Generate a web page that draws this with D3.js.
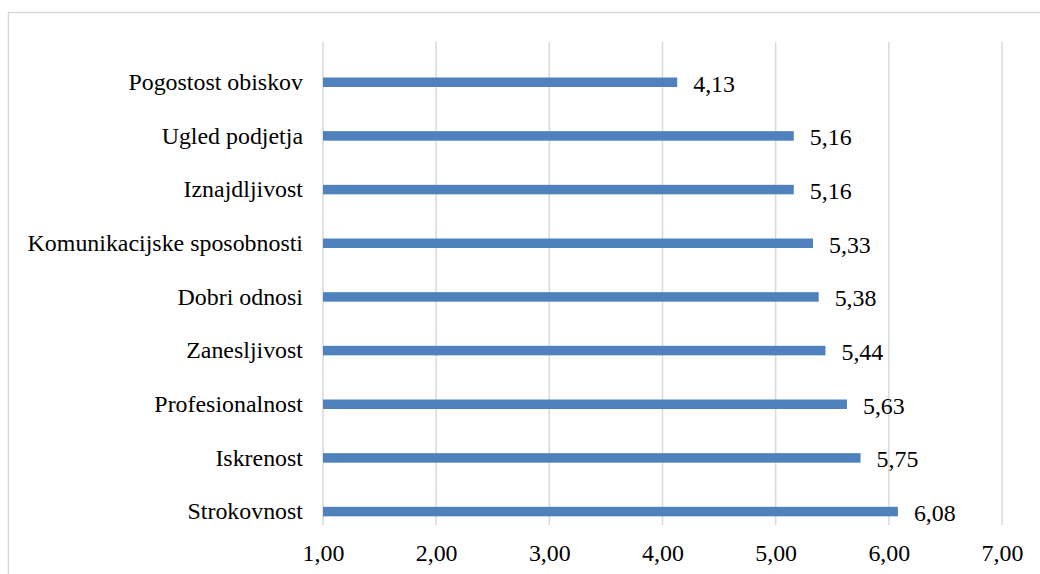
<!DOCTYPE html>
<html>
<head>
<meta charset="utf-8">
<script src="https://cdn.jsdelivr.net/npm/d3@7"></script>
<style>
  html, body { margin: 0; padding: 0; background: #fff; }
  svg { display: block; }
</style>
</head>
<body>
<svg id="chart" width="1040" height="574"></svg>
<script>
// Attribute ratings (mean scores), top to bottom
const categories = [
  "Pogostost obiskov",
  "Ugled podjetja",
  "Iznajdljivost",
  "Komunikacijske sposobnosti",
  "Dobri odnosi",
  "Zanesljivost",
  "Profesionalnost",
  "Iskrenost",
  "Strokovnost"
];
const values = [4.13, 5.16, 5.16, 5.33, 5.38, 5.44, 5.63, 5.75, 6.08];
const tickValues = [1, 2, 3, 4, 5, 6, 7];

const FONT = "Liberation Serif";
const FSIZE = 23.9;
const fmt = v => v.toFixed(2).replace(".", ",");

const svg = d3.select("#chart");
const W = 1040, H = 574;

// outer chart frame
svg.append("rect")
  .attr("x", 8.5).attr("y", 12.5)
  .attr("width", W + 20).attr("height", H + 20)
  .attr("fill", "none").attr("stroke", "#d9d9d9").attr("stroke-width", 1.5);

const plot = { left: 323, right: 1002, top: 42, bottom: 525 };

const x = d3.scaleLinear().domain([1, 7]).range([plot.left, plot.right]);
const y = d3.scaleBand().domain(categories).range([plot.top, plot.bottom]);
const barH = 9.5;
// bars sit in the lower part of each category slot
const barCenter = c => y(c) + y.bandwidth() * 0.75;

// vertical gridlines
svg.append("g").selectAll("line")
  .data(tickValues).join("line")
  .attr("x1", d => x(d)).attr("x2", d => x(d))
  .attr("y1", plot.top).attr("y2", plot.bottom)
  .attr("stroke", "#d9d9d9").attr("stroke-width", 1.5);

// bottom axis labels (no domain line, no tick marks)
const xAxis = d3.axisBottom(x).tickValues(tickValues).tickFormat(fmt).tickSize(0).tickPadding(0);
const gx = svg.append("g").attr("transform", `translate(0,${plot.bottom})`).call(xAxis)
  .attr("font-family", FONT).attr("font-size", FSIZE);
gx.select(".domain").remove();
gx.selectAll("text")
  .attr("y", 28).attr("dy", "0.33em")
  .attr("font-family", FONT).attr("font-size", FSIZE).attr("fill", "#000");

// category labels
svg.append("g").selectAll("text")
  .data(categories).join("text")
  .attr("x", plot.left - 20)
  .attr("y", d => barCenter(d))
  .attr("dy", "0.33em")
  .attr("text-anchor", "end")
  .attr("font-family", FONT).attr("font-size", FSIZE).attr("fill", "#000")
  .text(d => d);

// bars
svg.append("g").selectAll("rect")
  .data(values).join("rect")
  .attr("x", x(1))
  .attr("y", (d, i) => barCenter(categories[i]) - barH / 2)
  .attr("width", d => x(d) - x(1))
  .attr("height", barH)
  .attr("fill", "#4f81bd");

// value labels
svg.append("g").selectAll("text")
  .data(values).join("text")
  .attr("x", d => x(d) + 16)
  .attr("y", (d, i) => barCenter(categories[i]) + 1.5)
  .attr("dy", "0.33em")
  .attr("font-family", FONT).attr("font-size", FSIZE).attr("fill", "#000")
  .text(d => fmt(d));
</script>
</body>
</html>
